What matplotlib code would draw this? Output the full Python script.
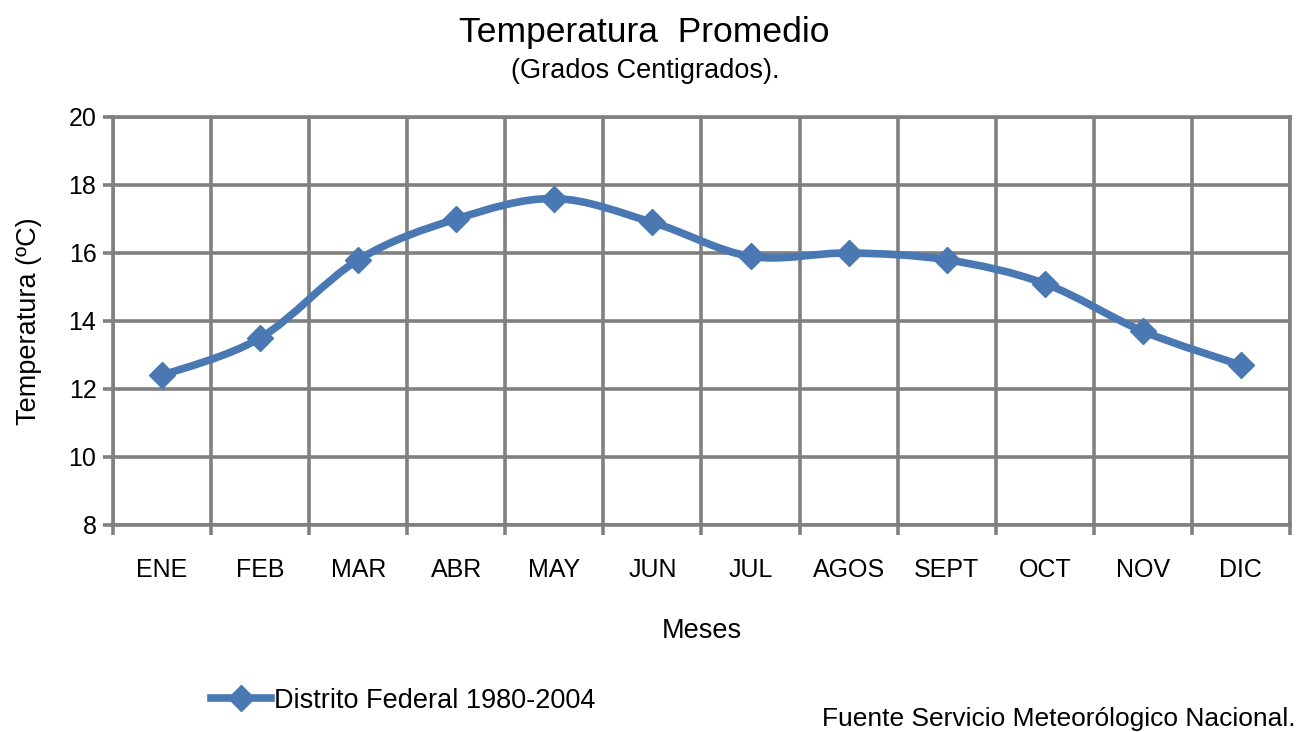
import numpy as np
import matplotlib.pyplot as plt
from matplotlib.path import Path
from matplotlib.patches import PathPatch
from matplotlib.lines import Line2D

plt.rcParams['font.family'] = ['Liberation Sans', 'DejaVu Sans']

meses = ['ENE', 'FEB', 'MAR', 'ABR', 'MAY', 'JUN', 'JUL', 'AGOS', 'SEPT', 'OCT', 'NOV', 'DIC']
temperatura = [12.4, 13.5, 15.8, 17.0, 17.6, 16.9, 15.9, 16.0, 15.8, 15.1, 13.7, 12.7]
y_ticks = [8, 10, 12, 14, 16, 18, 20]

azul = '#4a78b2'
gris = '#808080'

fig = plt.figure(figsize=(13.01, 7.32), dpi=100)
ax = fig.add_axes([0.0869, 0.2828, 0.9046, 0.5574])

n = len(meses)
x = np.arange(n)
y = np.array(temperatura)

# curva suavizada estilo Excel (Bezier con puntos de control tipo Catmull-Rom)
verts = [(x[0], y[0])]
codes = [Path.MOVETO]
for i in range(n - 1):
    p0 = np.array([x[max(i - 1, 0)], y[max(i - 1, 0)]])
    p1 = np.array([x[i], y[i]])
    p2 = np.array([x[i + 1], y[i + 1]])
    p3 = np.array([x[min(i + 2, n - 1)], y[min(i + 2, n - 1)]])
    c1 = p1 + (p2 - p0) / 6
    c2 = p2 - (p3 - p1) / 6
    verts += [tuple(c1), tuple(c2), tuple(p2)]
    codes += [Path.CURVE4] * 3
curva = PathPatch(Path(verts, codes), facecolor='none', edgecolor=azul,
                  linewidth=5.5, capstyle='round', joinstyle='round', zorder=3)
ax.add_patch(curva)
ax.plot(x, y, linestyle='none', marker='D', markersize=13, color=azul, zorder=4)

ax.set_xlim(-0.5, n - 0.5)
ax.set_ylim(8, 20)
ax.set_yticks(y_ticks)
ax.set_xticks(x)
ax.set_xticklabels(meses)
ax.set_xticks(np.arange(-0.5, n, 1), minor=True)

ax.tick_params(axis='x', which='major', length=0, pad=24, labelsize=18)
ax.tick_params(axis='x', which='minor', length=7, width=2.6, color=gris, direction='out')
ax.tick_params(axis='y', length=7, width=2.6, color=gris, labelsize=18, pad=5)

ax.grid(True, axis='y', which='major', color=gris, linewidth=2.6)
ax.grid(True, axis='x', which='minor', color=gris, linewidth=2.6)
ax.grid(False, axis='x', which='major')
for s in ax.spines.values():
    s.set_color(gris)
    s.set_linewidth(2.6)
ax.set_axisbelow(True)

ax.set_xlabel('Meses', fontsize=19.5, labelpad=26)
ax.set_ylabel('Temperatura (ºC)', fontsize=19.5, labelpad=19)

fig.text(0.495, 0.955, 'Temperatura  Promedio', ha='center', va='center', fontsize=25.5)
fig.text(0.496, 0.903, '(Grados Centigrados).', ha='center', va='center', fontsize=19.5)

leyenda = Line2D([0], [0], color=azul, linewidth=5.5, marker='D', markersize=13)
fig.legend([leyenda], ['Distrito Federal 1980-2004'], loc='center left',
           bbox_to_anchor=(0.152, 0.043), frameon=False, fontsize=19.5,
           handlelength=2.2, handletextpad=0.1, borderpad=0)

fig.text(0.996, 0.018, 'Fuente Servicio Meteorólogico Nacional.', ha='right', va='center', fontsize=19)

fig.savefig('out.png', dpi=100)
